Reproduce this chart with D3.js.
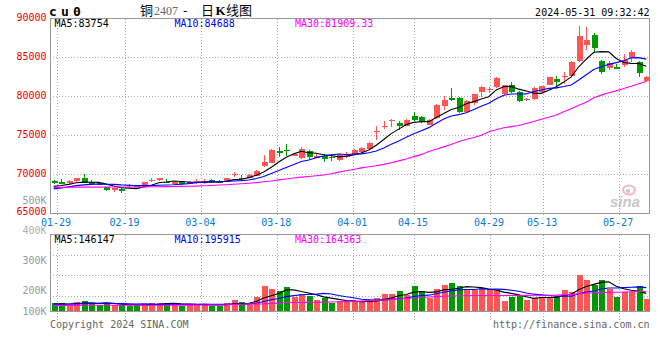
<!DOCTYPE html>
<html><head><meta charset="utf-8">
<script src="https://cdn.jsdelivr.net/npm/d3@7"></script>
<style>
body{margin:0;background:#fff}
svg{display:block}
text{font-family:"DejaVu Sans Mono",monospace;font-size:10px}
</style>
</head><body>
<svg id="c" width="660" height="360"></svg>
<script>
// ---------------- data ----------------
const dates = ["01-26","01-29","01-30","01-31","02-01","02-02","02-05","02-06","02-07","02-08",
"02-19","02-20","02-21","02-22","02-23","02-26","02-27","02-28","02-29","03-01",
"03-04","03-05","03-06","03-07","03-08","03-11","03-12","03-13","03-14","03-15",
"03-18","03-19","03-20","03-21","03-22","03-25","03-26","03-27","03-28","03-29",
"04-01","04-02","04-03","04-08","04-09","04-10","04-11","04-12","04-15","04-16",
"04-17","04-18","04-19","04-22","04-23","04-24","04-25","04-26","04-29","04-30",
"05-06","05-07","05-08","05-09","05-10","05-13","05-14","05-15","05-16","05-17",
"05-20","05-21","05-22","05-23","05-24","05-27","05-28","05-29","05-30","05-31"];

const open = [69049,68921,68792,69049,69435,69011,68792,68278,67944,68072,
68625,68497,68407,69178,69178,69011,68664,68972,68715,68843,
68792,69229,69139,68972,69871,69525,69486,69782,71028,71491,
72994,73161,72352,72133,72955,72133,72313,72262,71799,72182,
72482,72782,73253,75394,76080,76765,76551,76208,77493,77322,
76337,77193,78778,79763,79763,77922,79120,80577,80748,81134,
80277,81391,80577,79463,79678,80577,81476,82161,82418,82633,
84517,86616,87815,84560,83575,83789,83960,84860,84346,81990];
const high = [69178,69307,69267,69525,70077,69178,68843,68330,68280,68150,
68690,68580,69011,69525,69525,69357,69000,69000,69050,69307,
69357,69396,69180,69525,70257,69910,69974,70488,72480,73213,
73547,73894,72650,73547,73123,72570,72609,72480,72647,72782,
73253,73425,74067,76208,76765,77107,76765,77065,77921,77407,
77065,79035,80063,81048,79848,79549,80320,81262,81177,82461,
81476,81776,80663,79806,81134,81348,82504,82547,83104,84474,
89057,88886,88200,84688,84560,84174,85417,85973,84474,82633];
const low = [68753,68664,68664,68921,68843,68664,68586,67850,67636,67507,
68368,68300,68407,68921,69100,68882,68600,68620,68680,68754,
68715,68882,68800,68921,69615,69178,69435,69743,70938,71452,
72262,72352,72300,71966,71966,72095,71619,71748,71709,72011,
72396,72696,73167,74323,75780,76037,75608,76122,76765,76551,
76251,77107,78178,79420,77836,77836,78906,79891,80405,81048,
80148,80405,79292,79377,79549,80491,81391,80920,81605,82547,
84346,85888,85674,82847,83404,83489,83789,84388,82461,81776];
const close = [68792,68664,69049,69435,68882,68715,68625,67893,68240,67816,
68407,68330,69011,69268,69435,68882,68972,68664,69011,69050,
69139,68921,68843,69486,70077,69396,69910,70424,71581,73123,
72737,72955,72609,73290,72185,72352,72005,72095,72442,72567,
73124,73339,73981,75565,76208,76936,76208,76979,76893,76637,
76979,78906,79463,79506,77965,79420,80234,81177,80920,82376,
81391,80491,79420,79678,81048,81262,82418,81776,82633,84388,
87772,87258,86230,83061,84260,83532,84688,85631,82932,82461];
const volume = [64400,64400,50400,75600,84000,67200,50400,67200,50400,50400,
42000,50400,58800,67200,67200,67200,58800,42000,58800,50400,
58800,42000,42000,67200,89600,75600,50400,120400,210000,187600,
168000,201600,120400,140000,128800,92400,112000,70000,86800,81200,
81200,72800,81200,109200,142800,142800,168000,131600,210000,168000,
106400,187600,218400,235200,210000,173600,173600,190400,173600,173600,
84000,120400,126000,92400,109200,117600,120400,128800,176400,162400,
302400,260400,218400,260400,184800,117600,156800,156800,210000,100800];
// closes / volumes of the sessions just before the window (for the MA5 / MA10 lines)
const priorClose = [67500,67600,67800,68000,68000,68100,68300,68400,68500];
const priorVolume = [52000,55000,50000,58000,54000,56000,52000,57000,60000];
// MA30 lines
const ma30Price = [68300,68300,68310,68320,68320,68330,68330,68340,68340,68340,
68350,68350,68360,68370,68380,68390,68400,68420,68440,68460,
68500,68540,68590,68640,68700,68760,68830,68900,69010,69120,
69260,69380,69500,69610,69700,69790,69880,70050,70250,70430,
70600,70800,70950,71080,71250,71450,71700,71950,72250,72500,
72900,73200,73500,73800,74200,74450,74700,75000,75450,75700,
75950,76100,76250,76500,76750,77050,77300,77600,78000,78400,
78850,79250,79800,80150,80450,80700,81000,81300,81620,81909];
const ma30Volume = [47000,47000,47500,47500,48000,48000,48000,48500,48500,48500,
48500,48500,49000,49000,49000,49000,49500,49500,49500,50000,
50000,50500,51000,52000,55000,57000,58000,59000,60000,63000,
66000,69000,71000,72000,73000,74000,75000,76000,78000,79000,
81000,84000,87000,90000,93000,97000,101000,105000,110000,114000,
118000,121000,124000,126000,128000,129000,130000,130500,131000,131000,
131000,131000,131000,131500,132000,132500,133000,134000,137000,140000,
145000,150000,153000,155000,157000,158000,160000,162000,163000,164363];

const priceTicks = [90000,85000,80000,75000,70000,65000];
const priceGrid = [85000,80000,75000,70000];
const volTickLabels = ["500K","400K","300K","200K","100K"];
const volTickValues = [500000,400000,300000,200000,100000];
const dateTicks = ["01-29","02-19","03-04","03-18","04-01","04-15","04-29","05-13","05-27"];
const priceLegend = ["MA5:83754","MA10:84688","MA30:81909.33"];
const volLegend = ["MA5:146147","MA10:195915","MA30:164363"];
const titleSymbol = "cu0";
const stamp = "2024-05-31 09:32:42";

// ---------------- layout ----------------
const L = 50, R = 650;
const P = {top:18.5, bottom:213};
const V = {top:234.5, bottom:311};
const RED = "#ff5555", GREEN = "#009a00", GRID = "#aaaaaa", FRAME = "#999999";
const maColors = ["#000000","#0000ff","#ff00ff"];

const svg = d3.select("#c");
const x = d3.scaleBand().domain(dates).range([L, R]);
const cx = d => x(d) + x.bandwidth()/2;
const xg = d3.scalePoint().domain(dates).range([49.5, 649.5]);
const y = d3.scaleLinear().domain([65000, 90000]).range([P.bottom, P.top]);
const yv = d3.scaleLinear().domain([0, 644000]).range([V.bottom, V.top]);
const yvLabel = d3.scaleLinear().domain([0, 500000]).range([350, 200]);
const yvGrid = d3.scaleLinear().domain([0, 4]).range([316, V.top]);

function movingAvg(vals, prior, n) {
  const all = prior.concat(vals);
  return vals.map((_, i) => d3.mean(all.slice(i + prior.length - n + 1, i + prior.length + 1)));
}
const ma5 = movingAvg(close, priorClose, 5), ma10 = movingAvg(close, priorClose, 10);
const vma5 = movingAvg(volume, priorVolume, 5), vma10 = movingAvg(volume, priorVolume, 10);

// gridlines
const g = svg.append("g").attr("stroke", GRID).attr("stroke-dasharray", "1,2").attr("shape-rendering","crispEdges");
priceGrid.forEach(v => g.append("line").attr("x1", L).attr("x2", R).attr("y1", Math.round(y(v))+0.5).attr("y2", Math.round(y(v))+0.5));
dateTicks.forEach(d => {
  const xx = Math.round(xg(d)) + 0.5;
  g.append("line").attr("x1", xx).attr("x2", xx).attr("y1", P.top).attr("y2", P.bottom + 3);
  g.append("line").attr("x1", xx).attr("x2", xx).attr("y1", V.top).attr("y2", 321);
});
[1,2,3].forEach(k => g.append("line").attr("x1", L).attr("x2", R).attr("y1", Math.round(yvGrid(k))+0.5).attr("y2", Math.round(yvGrid(k))+0.5));

// frames
svg.append("rect").attr("x", L+0.5).attr("y", P.top).attr("width", R-L-1).attr("height", P.bottom-P.top)
  .attr("fill","none").attr("stroke",FRAME).attr("shape-rendering","crispEdges");
svg.append("rect").attr("x", L+0.5).attr("y", V.top).attr("width", R-L-1).attr("height", V.bottom-V.top)
  .attr("fill","none").attr("stroke",FRAME).attr("shape-rendering","crispEdges");

// watermark
const wm = svg.append("g").attr("opacity", 0.55);
wm.append("ellipse").attr("cx", 629).attr("cy", 190).attr("rx", 6).attr("ry", 4.5).attr("fill","none").attr("stroke","#f08080").attr("stroke-width",2);
wm.append("circle").attr("cx", 628).attr("cy", 191).attr("r", 2).attr("fill","#999");
wm.append("text").attr("x", 610).attr("y", 207).text("sina")
  .style("font-family","Liberation Sans, Arial").style("font-size","15px").style("font-style","italic").style("font-weight","bold").attr("fill","#9a9a9a");

// candles
const idx = d3.range(dates.length);
const cg = svg.append("g").attr("shape-rendering","crispEdges");
idx.forEach(i => {
  const up = close[i] >= open[i];
  const col = up ? RED : GREEN;
  const xc = Math.round(cx(dates[i]));
  cg.append("line").attr("x1", xc+0.5).attr("x2", xc+0.5).attr("y1", y(high[i])).attr("y2", y(low[i])).attr("stroke", col);
  const top = y(Math.max(open[i], close[i])), bot = y(Math.min(open[i], close[i]));
  cg.append("rect").attr("x", xc-2.5).attr("width", 6).attr("y", top).attr("height", Math.max(1, bot-top)).attr("fill", col);
  cg.append("rect").attr("x", xc-2.5).attr("width", 6).attr("y", yv(volume[i])).attr("height", V.bottom - yv(volume[i])).attr("fill", col);
});

// MA lines
const lineP = d3.line().x((v,i) => cx(dates[i])).y(v => y(v));
const lineV = d3.line().x((v,i) => cx(dates[i])).y(v => yv(v));
[ma5, ma10, ma30Price].forEach((arr, k) => svg.append("path").attr("d", lineP(arr)).attr("fill","none").attr("stroke", maColors[k]).attr("stroke-width",1.1));
[vma5, vma10, ma30Volume].forEach((arr, k) => svg.append("path").attr("d", lineV(arr)).attr("fill","none").attr("stroke", maColors[k]).attr("stroke-width",1.1));

// axis labels
priceTicks.forEach(v => svg.append("text").attr("x", 46.5).attr("y", Math.min(y(v), 212) + 2.5).attr("text-anchor","end").attr("fill","#ee0000").text(d3.format("d")(v)));
volTickLabels.forEach((t, k) => svg.append("text").attr("x", 46.5).attr("y", Math.min(yvLabel(volTickValues[k]), 311) + 3.5)
  .attr("text-anchor","end").attr("fill", k === 1 ? "#b0b0b0" : "#999999").text(t));
dateTicks.forEach(d => svg.append("text").attr("x", xg(d) - 1).attr("y", 225.5).attr("text-anchor","middle").attr("fill","#0a7ad8").text(d));

// legends
const legX = [54.5, 174.5, 295];
priceLegend.forEach((t, k) => svg.append("text").attr("x", legX[k]).attr("y", 27).attr("fill", maColors[k]).text(t));
volLegend.forEach((t, k) => svg.append("text").attr("x", legX[k]).attr("y", 242.5).attr("fill", maColors[k]).text(t));

// titles
svg.append("text").attr("x", 49).attr("y", 16).text(titleSymbol)
  .style("font-size","13px").style("font-weight","bold").style("letter-spacing","4.2px");
const tt = svg.append("text").attr("y", 15).style("font-family","'Noto Sans CJK SC',sans-serif").style("font-size","13px");
tt.append("tspan").attr("x", 140).text("铜");
tt.append("tspan").attr("x", 154).style("font-family","'Liberation Serif',serif").style("font-size","12px").attr("fill","#666").text("2407");
tt.append("tspan").attr("x", 183).text("-");
tt.append("tspan").attr("x", 201).text("日");
tt.append("tspan").attr("x", 215.5).style("font-family","'Liberation Serif',serif").style("font-weight","bold").text("K");
tt.append("tspan").attr("x", 226).text("线图");
svg.append("text").attr("x", 649.5).attr("y", 15.5).attr("text-anchor","end").text(stamp);

svg.append("text").attr("x", 50).attr("y", 327.5).attr("fill","#666").text("Copyright 2024 SINA.COM");
svg.append("text").attr("x", 649.5).attr("y", 327.5).attr("text-anchor","end").attr("fill","#666").text("http://finance.sina.com.cn");
</script>
</body></html>
